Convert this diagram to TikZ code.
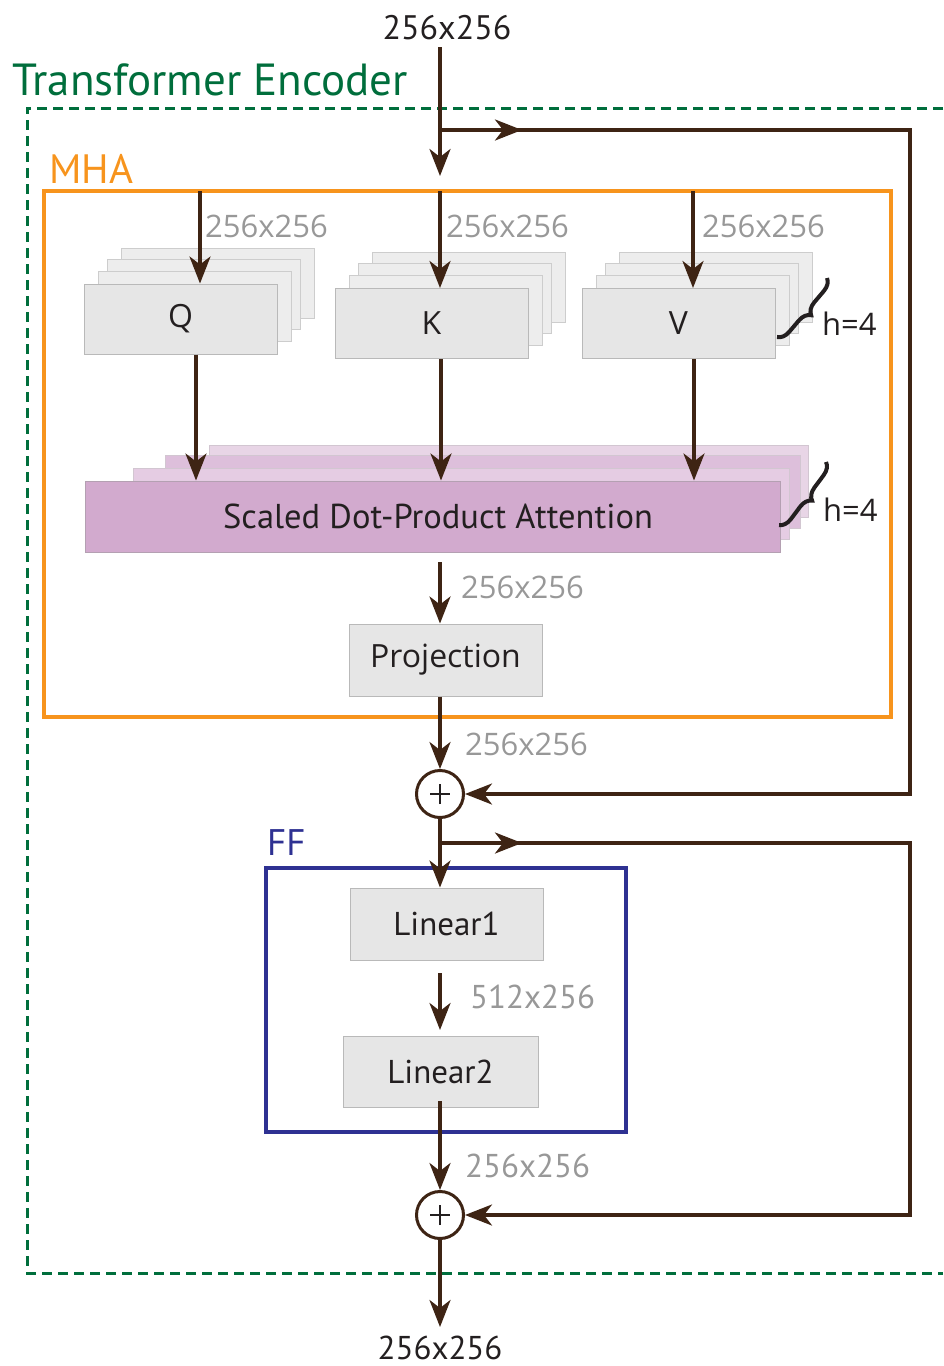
\documentclass[tikz,border=0pt]{standalone}
\usepackage{fontspec}
\setmainfont{Open Sans}
\newfontfamily\cond{PT Sans}
\usetikzlibrary{arrows.meta,decorations.pathreplacing}
\definecolor{arr}{RGB}{62,36,20}
\definecolor{grn}{RGB}{0,110,60}
\definecolor{org}{RGB}{247,148,29}
\definecolor{blu}{RGB}{46,49,146}
\definecolor{lbl}{RGB}{152,152,152}
\definecolor{boxf}{RGB}{230,230,230}
\definecolor{boxd}{RGB}{185,185,185}
\definecolor{ghf}{RGB}{237,237,237}
\definecolor{ghd}{RGB}{205,205,205}
\definecolor{pur}{RGB}{210,170,206}
\definecolor{purd}{RGB}{180,160,178}
\definecolor{pura}{RGB}{229,204,227}
\definecolor{purb}{RGB}{221,191,219}
\definecolor{purc}{RGB}{232,213,230}
\definecolor{txt}{RGB}{35,31,32}
\begin{document}
\begin{tikzpicture}[x=1pt,y=-1pt,
  box/.style={draw=boxd, fill=boxf, line width=1pt, minimum width=193pt, minimum height=70pt, inner sep=0pt, text=txt, font=\fontsize{32}{38}\selectfont},
  ghost/.style={draw=ghd, fill=ghf, line width=1pt, minimum width=193pt, minimum height=70pt, inner sep=0pt},
  pbox/.style={draw=purd, line width=1pt, inner sep=0pt},
  flow/.style={draw=arr, line width=3.5pt, -{Stealth[length=27pt,width=21pt,inset=8pt]}},
  plain/.style={draw=arr, line width=3.5pt},
  glbl/.style={anchor=west, inner sep=0pt, text=lbl, font=\fontsize{31}{36}\selectfont},
  clbl/.style={anchor=west, inner sep=0pt, text=lbl, font=\cond\fontsize{33}{40}\selectfont},
  sumnode/.style={circle, draw=arr, line width=3pt, fill=white, minimum size=47pt, inner sep=0pt},
  hbrace/.style={decorate, decoration={brace, amplitude=12pt}, line width=4pt, draw=txt},
  frame/.style={line width=3.5pt}
]
\useasboundingbox (0,0) rectangle (943,1366);

% outer encoder frame
\draw[grn, line width=3pt, dash pattern=on 10pt off 6pt] (943,108) -- (27,108) -- (27,1273) -- (943,1273);
\node[anchor=base west, inner sep=0pt, text=grn, font=\cond\fontsize{45}{54}\selectfont] (tenc) at (12,95) {Transformer Encoder};

% MHA frame
\draw[org, frame] (44,191) rectangle (891,717);
\node[anchor=base west, inner sep=0pt, text=org, font=\cond\fontsize{41}{48}\selectfont] (mha) at (49,183) {MHA};

% FF frame
\draw[blu, frame] (266,868) rectangle (626,1132);
\node[anchor=base west, inner sep=0pt, text=blu, font=\cond\fontsize{37}{44}\selectfont] (ff) at (267,855) {FF};

% input label
\node[inner sep=0pt, text=txt, font=\cond\fontsize{34}{40}\selectfont] (inl) at (447,28) {256x256};
\coordinate (instart) at (440,47);
\coordinate (mhain) at (440,176);
\coordinate (sp1) at (440,130);
\draw[flow] (instart) -- (mhain);

% Q K V stacks
\foreach \dx/\dy in {37/-36,23/-25,14/-13} {
  \node[ghost] at (180.5+\dx,319+\dy) {};
  \node[ghost] at (431.5+\dx,323.5+\dy) {};
  \node[ghost] at (678.5+\dx,323.5+\dy) {};
}
\node[box] (Q) at (180.5,319) {Q};
\node[box] (K) at (431.5,323.5) {K};
\node[box] (V) at (678.5,323.5) {V};

\coordinate (qin) at (200,191);
\coordinate (kin) at (440,191);
\coordinate (vin) at (693,191);
\draw[flow] (qin) -- (qin |- Q.north);
\draw[flow] (kin) -- (kin |- K.north);
\draw[flow] (vin) -- (vin |- V.north);
\node[glbl] (lq) at (205,226) {256x256};
\node[glbl] (lk) at (446,226) {256x256};
\node[glbl] (lv) at (702,226) {256x256};

\draw[hbrace] (827,278) -- (777,337);
\node[anchor=base west, inner sep=0pt, text=txt, font=\fontsize{31}{36}\selectfont] (h1) at (822,335) {h=4};

% SDPA stack
\node[pbox, fill=purc, draw=purd!60, minimum width=599pt, minimum height=72pt] at (508.5,481) {};
\node[pbox, fill=purb, draw=purd!60, minimum width=635pt, minimum height=73pt] at (482.5,491.5) {};
\node[pbox, fill=pura, draw=purd!60, minimum width=656pt, minimum height=71pt] at (461,503.5) {};
\node[pbox, fill=pur, minimum width=695pt, minimum height=71pt] (S) at (432.5,516.5) {};
\node[inner sep=0pt, text=txt, font=\cond\fontsize{34.5}{40}\selectfont] (St) at (438,516) {Scaled Dot-Product Attention};

\draw[flow] ([xshift=15.5pt]Q.south) -- ([xshift=15.5pt]Q.south |- S.north);
\draw[flow] ([xshift=9.5pt]K.south) -- ([xshift=9.5pt]K.south |- S.north);
\draw[flow] ([xshift=15.5pt]V.south) -- ([xshift=15.5pt]V.south |- S.north);

\draw[hbrace] (826,462) -- (779,525);
\node[anchor=base west, inner sep=0pt, text=txt, font=\fontsize{31}{36}\selectfont] (h2) at (823,521) {h=4};

% projection
\node[box, minimum height=72pt] (P) at (445.5,660) {Projection};
\coordinate (sout) at (440,562);
\draw[flow] (sout) -- (sout |- P.north);
\node[glbl] (lp) at (461,587) {256x256};

% first sum
\node[sumnode] (c1) at (440,794) {};
\draw[txt, line width=1.5pt] ([xshift=-10pt]c1.center) -- ([xshift=10pt]c1.center) ([yshift=-10pt]c1.center) -- ([yshift=10pt]c1.center);
\draw[flow] (P.south -| c1) -- (c1.north);
\node[glbl] (lc1) at (465,744) {256x256};

% skip 1
\draw[flow] (sp1) -- (522,130);
\draw[flow] (515,130) -- (910,130) -- (910,794) -- (c1.east);

% FF block
\node[box, minimum height=72pt] (L1) at (446.5,924) {\cond\fontsize{33}{38}\selectfont Linear1};
\node[box, minimum width=195pt, minimum height=71pt] (L2) at (440.5,1071.5) {\cond\fontsize{33}{38}\selectfont Linear2};
\draw[flow] (c1.south) -- (c1.south |- L1.north);
\coordinate (sp2) at (440,843);
\draw[flow] (sp2) -- (522,843);
\coordinate (l1o) at (440,973);
\coordinate (l2i) at (440,1030);
\draw[flow] (l1o) -- (l2i);
\node[clbl] (l512) at (470,997) {512x256};

% second sum
\node[sumnode] (c2) at (440,1215) {};
\draw[txt, line width=1.5pt] ([xshift=-10pt]c2.center) -- ([xshift=10pt]c2.center) ([yshift=-10pt]c2.center) -- ([yshift=10pt]c2.center);
\coordinate (l2o) at (440,1101);
\draw[flow] (l2o) -- (c2.north);
\node[clbl] (lc2) at (465,1166) {256x256};
\draw[flow] (515,843) -- (910,843) -- (910,1215) -- (c2.east);

% output
\coordinate (outend) at (440,1327);
\draw[flow] (c2.south) -- (outend);
\node[anchor=base, inner sep=0pt, text=txt, font=\cond\fontsize{33}{40}\selectfont] (outl) at (440,1359) {256x256};
\end{tikzpicture}
\end{document}
